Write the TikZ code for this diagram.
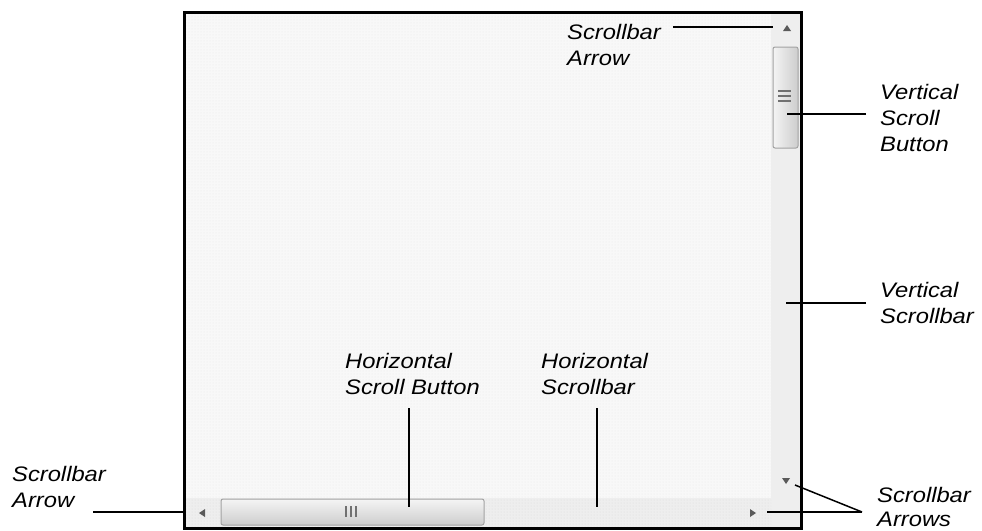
\documentclass[tikz,border=0pt]{standalone}
\usepackage{fontspec}
\newfontfamily\labelfont[FakeStretch=1.13]{Liberation Sans}
\usetikzlibrary{patterns}

\definecolor{paneback}{HTML}{F8F8F8}
\definecolor{panedots}{HTML}{EBEBEB}
\definecolor{trackback}{HTML}{EEEEEE}
\definecolor{trackdots}{HTML}{DCDCDC}
\definecolor{thumblight}{HTML}{F4F4F4}
\definecolor{thumbdark}{HTML}{CDCDCD}
\definecolor{thumbedge}{HTML}{A2A2A2}
\definecolor{gripcol}{HTML}{707070}
\definecolor{arrowcol}{HTML}{5A5A5A}

% labels are placed by the baseline of their last line
\tikzset{
  lbl/.style={anchor=base west, inner sep=0pt, align=left,
    font=\labelfont\itshape\fontsize{21}{26}\selectfont},
  leader/.style={draw=black, line width=1.5pt},
  tip/.style={fill=arrowcol, draw=none},
  grip/.style={draw=gripcol, line width=1.2pt},
}

\begin{document}
\begin{tikzpicture}[x=1pt, y=-1pt]
\useasboundingbox (0,0) rectangle (982,530);
\fill[white] (0,0) rectangle (982,530);

% window pane
\fill[paneback] (184,12) rectangle (801,528);
\fill[pattern=dots, pattern color=panedots] (184,12) rectangle (801,528);

% scrollbar tracks
\fill[trackback] (771,12) rectangle (801,498);
\fill[trackback] (184,498) rectangle (801,528);
\fill[pattern=dots, pattern color=trackdots] (184,498) rectangle (771,528);

% vertical thumb
\draw[thumbedge, line width=1pt, rounded corners=2pt, left color=thumblight, right color=thumbdark]
  (773,47) rectangle (798,148);
\node[inner sep=0pt, minimum width=25pt, minimum height=101pt] (vthumb) at (785.5,97.5) {};
\draw[grip] (778,91) -- (791,91) (778,96) -- (791,96) (778,101) -- (791,101);

% horizontal thumb
\draw[thumbedge, line width=1pt, rounded corners=2pt, top color=thumblight, bottom color=thumbdark]
  (221,499) rectangle (484,525);
\node[inner sep=0pt, minimum width=263pt, minimum height=26pt] (hthumb) at (352.5,512) {};
\draw[grip] (346,506) -- (346,517) (351,506) -- (351,517) (356,506) -- (356,517);

% arrow glyphs
\fill[tip] (783,31) -- (791,31) -- (787,25) -- cycle;
\fill[tip] (782,478) -- (790,478) -- (786,484) -- cycle;
\fill[tip] (205,509) -- (205,517) -- (199,513) -- cycle;
\fill[tip] (750,509) -- (750,517) -- (756,513) -- cycle;

% window frame
\draw[black, line width=3pt] (184,12) rectangle (801,528);

% leader end points on the window
\coordinate (uparrow) at (773,27);
\coordinate (vgrip) at (787,114);
\coordinate (vtrack) at (786,303);
\coordinate (hgrip) at (409,507);
\coordinate (htrack) at (597,507);
\coordinate (leftarrow) at (186,512);
\coordinate (downarrow) at (795,485);
\coordinate (rightarrow) at (767,512);

% labels
\node[lbl] (tsa) at (567,65) {Scrollbar\\Arrow};
\node[lbl] (vsb) at (880,151) {Vertical\\Scroll\\Button};
\node[lbl] (vsc) at (880,323) {Vertical\\Scrollbar};
\node[lbl] (hsb) at (345,394) {Horizontal\\Scroll Button};
\node[lbl] (hsc) at (541,394) {Horizontal\\Scrollbar};
\node[lbl] (lsa) at (12,507) {Scrollbar\\Arrow};
\node[lbl, font=\labelfont\itshape\fontsize{21}{24}\selectfont] (sas) at (877,526) {Scrollbar\\Arrows};

% leaders
\coordinate (tsaend) at (673,27);
\coordinate (vsbend) at (866,114);
\coordinate (vscend) at (866,303);
\coordinate (hsbend) at (409,408);
\coordinate (hscend) at (597,408);
\coordinate (lsaend) at (93,512);
\coordinate (sasend) at (862,512);

\draw[leader] (tsaend) -- (uparrow);
\draw[leader] (vsbend) -- (vgrip);
\draw[leader] (vscend) -- (vtrack);
\draw[leader] (hsbend) -- (hgrip);
\draw[leader] (hscend) -- (htrack);
\draw[leader] (lsaend) -- (leftarrow);
\draw[leader] (sasend) -- (downarrow);
\draw[leader] (sasend) -- (rightarrow);
\end{tikzpicture}
\end{document}
